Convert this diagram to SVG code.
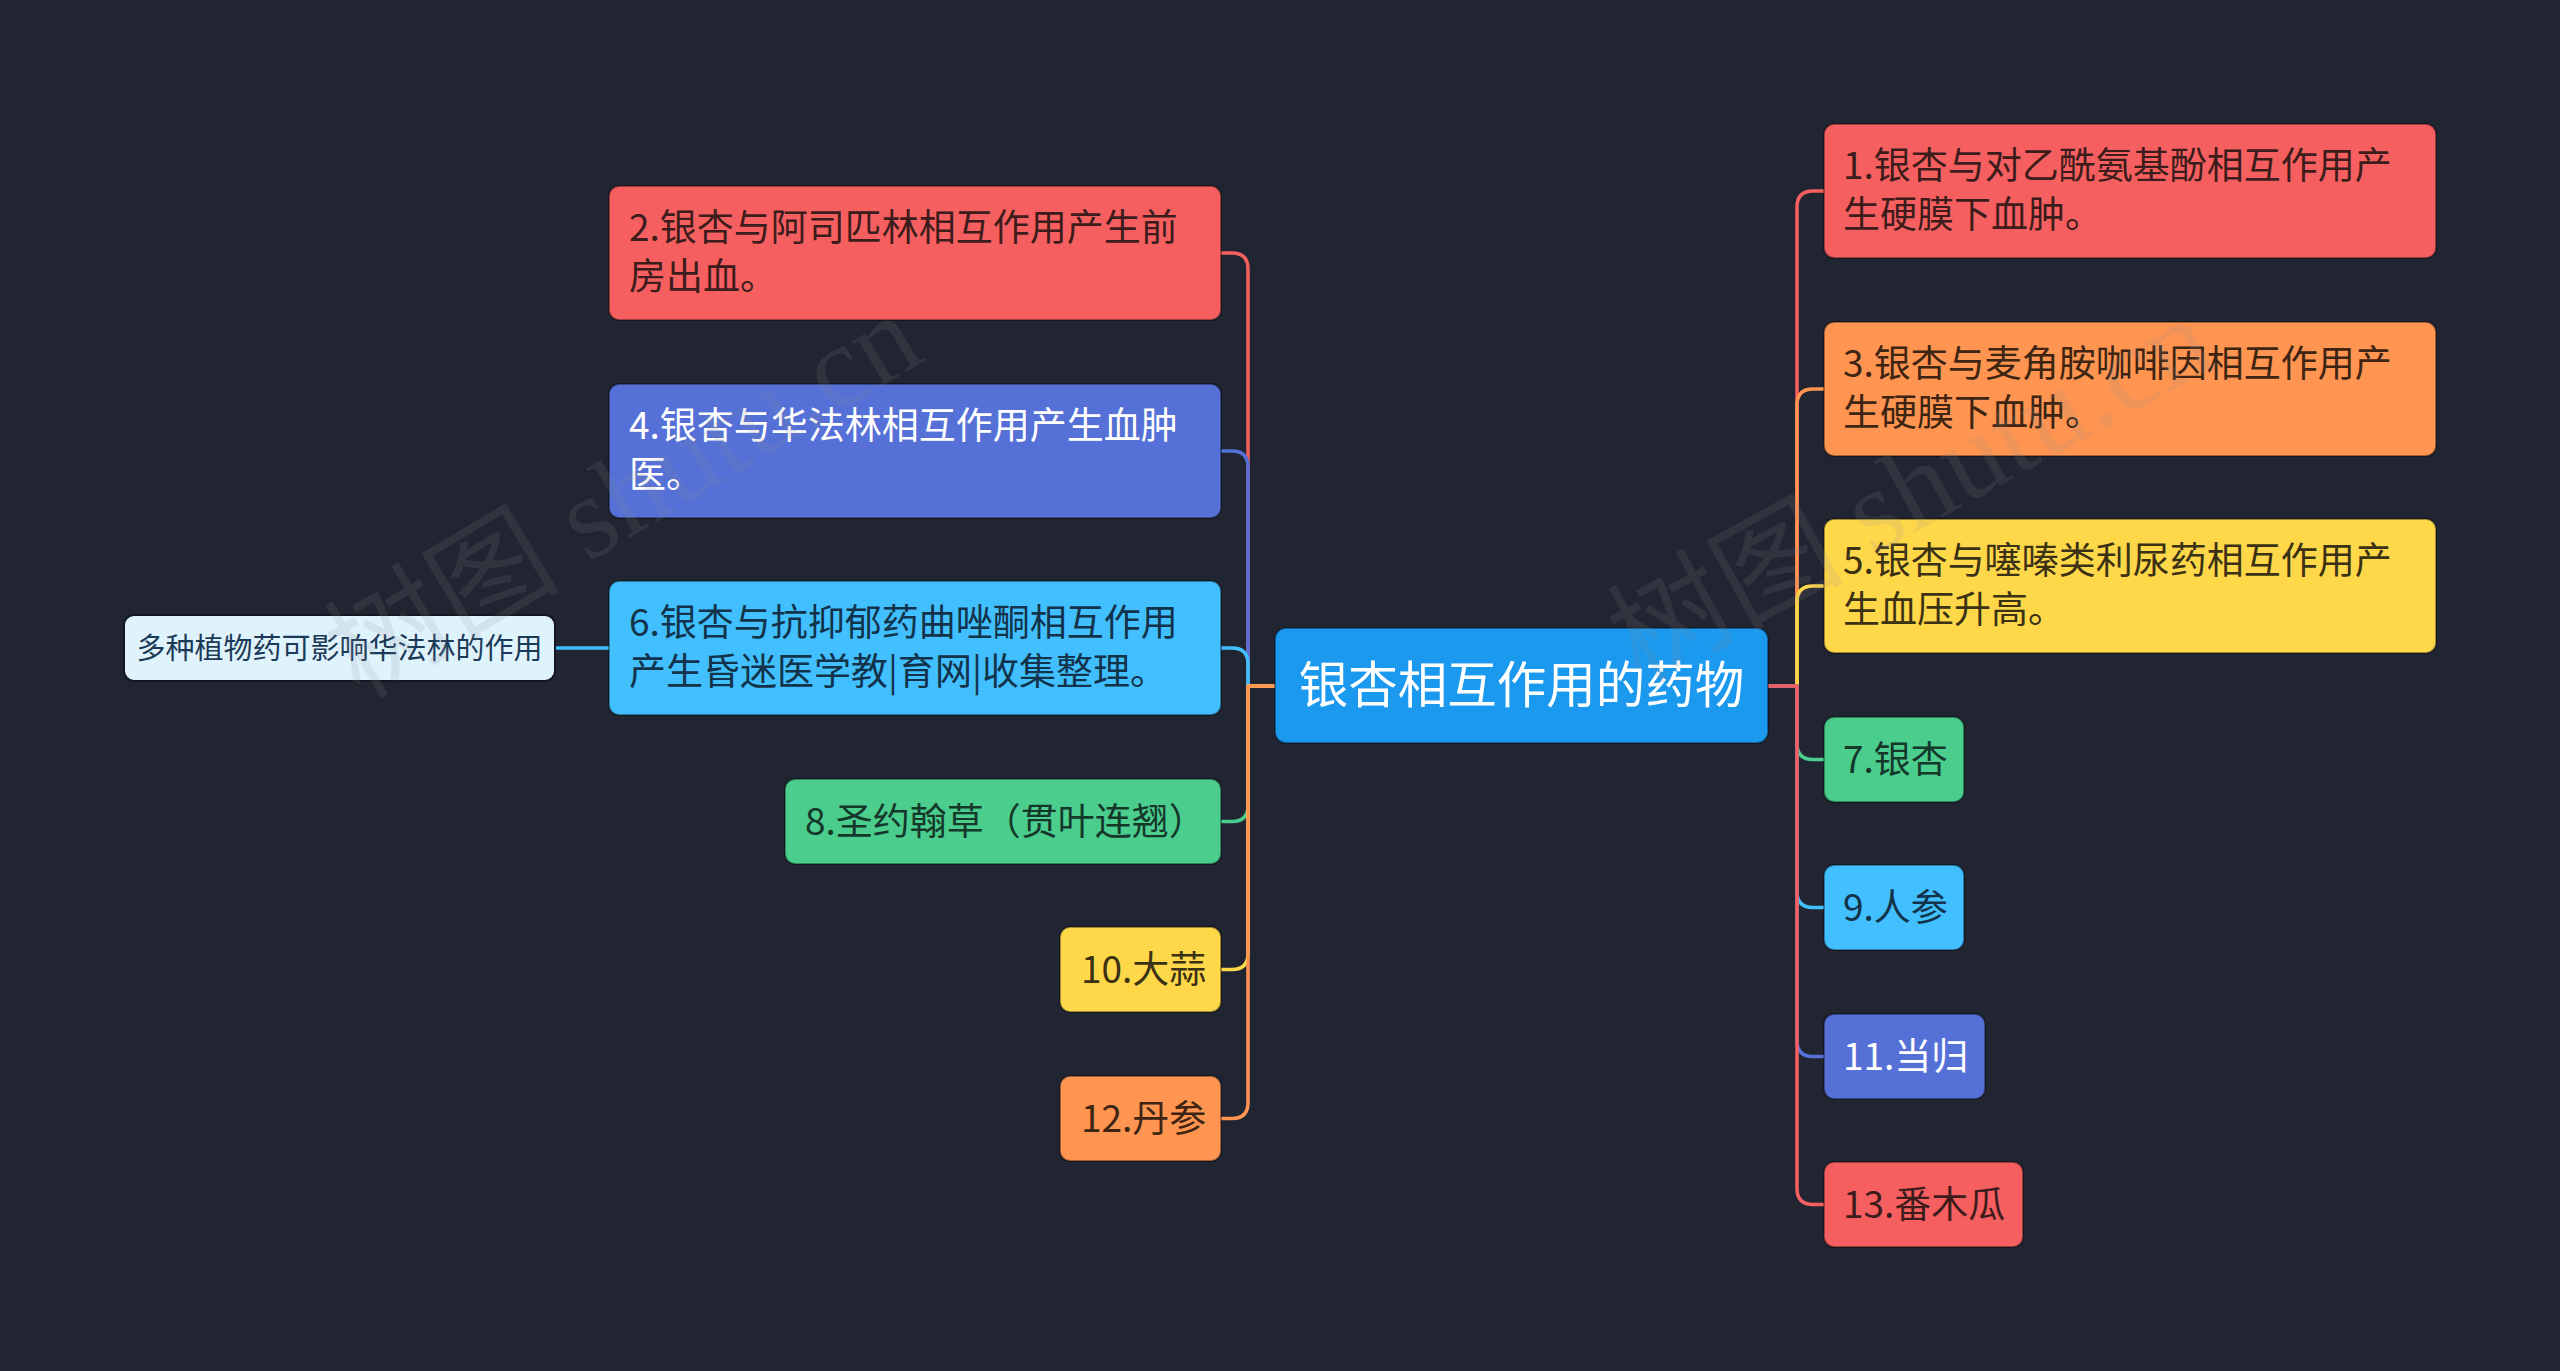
<svg xmlns="http://www.w3.org/2000/svg" width="2560" height="1371" viewBox="0 0 2560 1371">
<style>
  text { font-family: "Noto Sans CJK SC", "Noto Sans", sans-serif; }
  .n { stroke: rgba(0,0,0,0.35); stroke-width: 2; }
  .t { font-size: 37px; }
  .red { fill: #f65f5f; }
  .ora { fill: #ff9550; }
  .yel { fill: #ffd84a; }
  .grn { fill: #4acd8d; }
  .lbl { fill: #41bfff; }
  .vio { fill: #5570d6; }
  .tred { fill: #3d1c1c; }
  .tora { fill: #3d2413; }
  .tyel { fill: #3b3114; }
  .tgrn { fill: #15382a; }
  .tlbl { fill: #13334a; }
  .twht { fill: #ffffff; }
  .c { fill: none; stroke-width: 3.5; stroke-linecap: round; stroke-linejoin: round; }
  .wm { font-family: "Liberation Serif", "Noto Sans CJK SC", serif; font-size: 118px; fill: #8a8d96; fill-opacity: 0.15; }
</style>
<rect x="0" y="0" width="2560" height="1371" fill="#212431"/>

<g id="connectors">
  <path class="c" stroke="#f65f5f" d="M1275 686 H1248 V269 Q1248 253 1232 253 H1221"/>
  <path class="c" stroke="#5570d6" d="M1275 686 H1248 V467 Q1248 451 1232 451 H1221"/>
  <path class="c" stroke="#41bfff" d="M1275 686 H1248 V664 Q1248 648 1232 648 H1221"/>
  <path class="c" stroke="#4acd8d" d="M1275 686 H1248 V805.5 Q1248 821.5 1232 821.5 H1221"/>
  <path class="c" stroke="#ffd84a" d="M1275 686 H1248 V953.5 Q1248 969.5 1232 969.5 H1221"/>
  <path class="c" stroke="#ff9550" d="M1275 686 H1248 V1102.5 Q1248 1118.5 1232 1118.5 H1221"/>
  <path class="c" stroke="#f65f5f" d="M1768 686 H1797 V207 Q1797 191 1813 191 H1824"/>
  <path class="c" stroke="#ff9550" d="M1768 686 H1797 V405 Q1797 389 1813 389 H1824"/>
  <path class="c" stroke="#ffd84a" d="M1768 686 H1797 V602 Q1797 586 1813 586 H1824"/>
  <path class="c" stroke="#4acd8d" d="M1768 686 H1797 V743.5 Q1797 759.5 1813 759.5 H1824"/>
  <path class="c" stroke="#41bfff" d="M1768 686 H1797 V891.5 Q1797 907.5 1813 907.5 H1824"/>
  <path class="c" stroke="#5570d6" d="M1768 686 H1797 V1040.5 Q1797 1056.5 1813 1056.5 H1824"/>
  <path class="c" stroke="#f65f5f" d="M1768 686 H1797 V1188.5 Q1797 1204.5 1813 1204.5 H1824"/>
  <path class="c" stroke="#41bfff" d="M609 648 H555"/>
</g>

<g id="center">
  <rect x="1275" y="628" width="493" height="115" rx="11" fill="#1a99ef" class="n"/>
  <text x="1521.5" y="703" font-size="49.5" fill="#ffffff" text-anchor="middle">银杏相互作用的药物</text>
</g>

<g id="node2">
  <rect x="609" y="186" width="612" height="134" rx="10" class="n red"/>
  <text class="t tred" x="629" y="241">2.银杏与阿司匹林相互作用产生前</text>
  <text class="t tred" x="629" y="290">房出血。</text>
</g>
<g id="node4">
  <rect x="609" y="384" width="612" height="134" rx="10" class="n vio"/>
  <text class="t twht" x="629" y="439">4.银杏与华法林相互作用产生血肿</text>
  <text class="t twht" x="629" y="488">医。</text>
</g>
<g id="node6">
  <rect x="609" y="581" width="612" height="134" rx="10" class="n lbl"/>
  <text class="t tlbl" x="629" y="636">6.银杏与抗抑郁药曲唑酮相互作用</text>
  <text class="t tlbl" x="629" y="685">产生昏迷医学教|育网|收集整理。</text>
</g>
<g id="sub6">
  <rect x="124" y="615" width="431" height="66" rx="10" fill="#dff3fd" stroke="#15171f" stroke-width="2"/>
  <text x="339.5" y="659" font-size="29" fill="#1b3a57" text-anchor="middle">多种植物药可影响华法林的作用</text>
</g>
<g id="node8">
  <rect x="785" y="779" width="436" height="85" rx="10" class="n grn"/>
  <text class="t tgrn" x="805" y="835">8.圣约翰草（贯叶连翘）</text>
</g>
<g id="node10">
  <rect x="1060" y="927" width="161" height="85" rx="10" class="n yel"/>
  <text class="t tyel" x="1081" y="983">10.大蒜</text>
</g>
<g id="node12">
  <rect x="1060" y="1076" width="161" height="85" rx="10" class="n ora"/>
  <text class="t tora" x="1081" y="1132">12.丹参</text>
</g>

<g id="node1">
  <rect x="1824" y="124" width="612" height="134" rx="10" class="n red"/>
  <text class="t tred" x="1843" y="179">1.银杏与对乙酰氨基酚相互作用产</text>
  <text class="t tred" x="1843" y="228">生硬膜下血肿。</text>
</g>
<g id="node3">
  <rect x="1824" y="322" width="612" height="134" rx="10" class="n ora"/>
  <text class="t tora" x="1843" y="377">3.银杏与麦角胺咖啡因相互作用产</text>
  <text class="t tora" x="1843" y="426">生硬膜下血肿。</text>
</g>
<g id="node5">
  <rect x="1824" y="519" width="612" height="134" rx="10" class="n yel"/>
  <text class="t tyel" x="1843" y="574">5.银杏与噻嗪类利尿药相互作用产</text>
  <text class="t tyel" x="1843" y="623">生血压升高。</text>
</g>
<g id="node7">
  <rect x="1824" y="717" width="140" height="85" rx="10" class="n grn"/>
  <text class="t tgrn" x="1843" y="773">7.银杏</text>
</g>
<g id="node9">
  <rect x="1824" y="865" width="140" height="85" rx="10" class="n lbl"/>
  <text class="t tlbl" x="1843" y="921">9.人参</text>
</g>
<g id="node11">
  <rect x="1824" y="1014" width="161" height="85" rx="10" class="n vio"/>
  <text class="t twht" x="1843" y="1070">11.当归</text>
</g>
<g id="node13">
  <rect x="1824" y="1162" width="199" height="85" rx="10" class="n red"/>
  <text class="t tred" x="1843" y="1218">13.番木瓜</text>
</g>

<g id="watermark">
  <text class="wm" transform="translate(360 700) rotate(-31)">树图 shutu.cn</text>
  <text class="wm" transform="translate(1640 685) rotate(-29)">树图 shutu.cn</text>
</g>
</svg>
